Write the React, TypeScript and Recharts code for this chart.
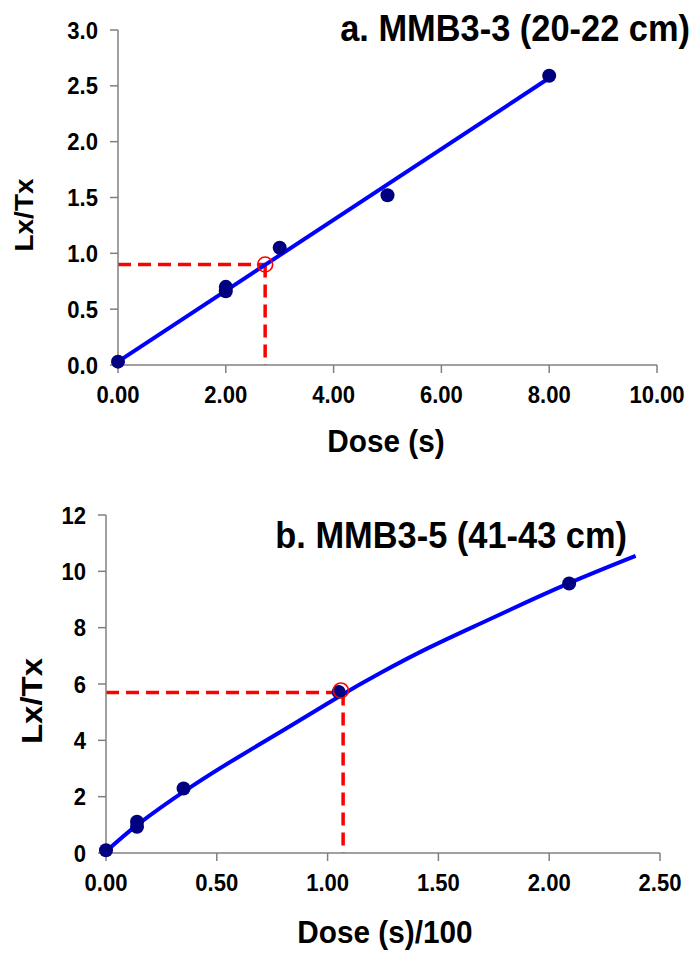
import React from "react";
import {
  ComposedChart,
  XAxis,
  YAxis,
  Line,
  Scatter,
  ReferenceLine,
} from "recharts";

// ---- Panel a: MMB3-3 (20-22 cm) ----
const doseA = [0, 2, 2, 3, 5, 8];
const lxA = [0.03, 0.66, 0.7, 1.05, 1.52, 2.59];
const fitDoseA = [0, 8];
const fitLxA = [0.03, 2.57];
const equivDoseA = 2.73;
const naturalLxA = 0.9;
const xTicksA = [0, 2, 4, 6, 8, 10];
const yTicksA = [0, 0.5, 1, 1.5, 2, 2.5, 3];

// ---- Panel b: MMB3-5 (41-43 cm) ----
const doseB = [0, 0.14, 0.14, 0.35, 1.05, 2.09];
const lxB = [0.1, 0.93, 1.11, 2.29, 5.72, 9.57];
const fitDoseB = [0, 0.15, 0.38, 0.6, 0.83, 1.05, 1.24, 1.46, 1.69, 1.91, 2.14, 2.39];
const fitLxB = [0.05, 1.05, 2.33, 3.42, 4.5, 5.55, 6.4, 7.3, 8.15, 8.95, 9.75, 10.55];
const equivDoseB = 1.07;
const naturalLxB = 5.7;
const naturalPointB = { x: 1.06, y: 5.77 };
const xTicksB = [0, 0.5, 1, 1.5, 2, 2.5];
const yTicksB = [0, 2, 4, 6, 8, 10, 12];

const FONT = '"Liberation Sans", Arial, Helvetica, sans-serif';
const AXIS_GRAY = "#808080";
const FIT_BLUE = "#0000ff";
const POINT_NAVY = "#000080";
const RED = "#ff0000";
// glyphs are drawn slightly narrower than the regular face
const NARROW = 0.92;

const zip = (xs: number[], ys: number[]) => xs.map((x, i) => ({ x, y: ys[i] }));

const Dot = (p: any) => <circle cx={p.cx} cy={p.cy} r={7} fill={POINT_NAVY} />;
const OpenCircle = (p: any) => (
  <circle cx={p.cx} cy={p.cy} r={7.5} fill="none" stroke={RED} strokeWidth={1.6} />
);

const makeXTick = (digits: number) => (p: any) => (
  <text
    transform={`translate(${p.x},${p.y}) scale(${NARROW},1)`}
    textAnchor="middle"
    dy="0.71em"
    fontFamily={FONT}
    fontWeight={700}
    fontSize={24}
    fill="#000"
  >
    {Number(p.payload.value).toFixed(digits)}
  </text>
);

const makeYTick = (digits: number) => (p: any) => (
  <text
    transform={`translate(${p.x},${p.y}) scale(${NARROW},1)`}
    textAnchor="end"
    dy="0.355em"
    fontFamily={FONT}
    fontWeight={700}
    fontSize={24}
    fill="#000"
  >
    {Number(p.payload.value).toFixed(digits)}
  </text>
);

type PanelProps = {
  top: number;
  margin: { top: number; right: number; bottom: number; left: number };
  points: { x: number; y: number }[];
  fit: { x: number; y: number }[];
  fitType: "linear" | "natural";
  natural: { x: number; y: number };
  equivDose: number;
  naturalLx: number;
  xTicks: number[];
  yTicks: number[];
  xDigits: number;
  yDigits: number;
  title: string;
  titleX: number;
  titleY: number;
  xLabel: string;
  xLabelX: number;
  xLabelY: number;
  yLabelX: number;
  yLabelY: number;
  yLabelSize: number;
};

function Panel(props: PanelProps) {
  const xMax = props.xTicks[props.xTicks.length - 1];
  const yMax = props.yTicks[props.yTicks.length - 1];
  return (
    <div style={{ position: "absolute", left: 0, top: props.top, width: 696, height: 477 }}>
      <ComposedChart width={696} height={477} margin={props.margin}>
        <XAxis
          type="number"
          dataKey="x"
          domain={[0, xMax]}
          ticks={props.xTicks}
          interval={0}
          height={60}
          tickSize={8}
          tickMargin={13}
          stroke={AXIS_GRAY}
          strokeWidth={1.5}
          tick={makeXTick(props.xDigits)}
        />
        <YAxis
          type="number"
          dataKey="y"
          domain={[0, yMax]}
          ticks={props.yTicks}
          interval={0}
          width={60}
          tickSize={8}
          tickMargin={12}
          stroke={AXIS_GRAY}
          strokeWidth={1.5}
          tick={makeYTick(props.yDigits)}
        />
        <ReferenceLine
          segment={[
            { x: 0, y: props.naturalLx },
            { x: props.equivDose, y: props.naturalLx },
          ]}
          stroke={RED}
          strokeWidth={3.5}
          strokeDasharray="13 7"
          ifOverflow="visible"
        />
        <ReferenceLine
          segment={[
            { x: props.equivDose, y: props.naturalLx },
            { x: props.equivDose, y: 0 },
          ]}
          stroke={RED}
          strokeWidth={3.5}
          strokeDasharray="13 7"
          ifOverflow="visible"
        />
        <Line
          data={props.fit}
          dataKey="y"
          type={props.fitType}
          stroke={FIT_BLUE}
          strokeWidth={4}
          dot={false}
          activeDot={false}
          isAnimationActive={false}
        />
        <Scatter data={props.points} dataKey="y" shape={Dot} isAnimationActive={false} />
        <Scatter data={[props.natural]} dataKey="y" shape={OpenCircle} isAnimationActive={false} />
      </ComposedChart>
      <svg
        width={696}
        height={477}
        style={{ position: "absolute", left: 0, top: 0, pointerEvents: "none" }}
      >
        <text
          transform={`translate(${props.titleX},${props.titleY}) scale(0.93,1)`}
          textAnchor="end"
          fontFamily={FONT}
          fontWeight={700}
          fontSize={37}
          fill="#000"
        >
          {props.title}
        </text>
        <text
          transform={`translate(${props.xLabelX},${props.xLabelY}) scale(0.93,1)`}
          textAnchor="middle"
          fontFamily={FONT}
          fontWeight={700}
          fontSize={32}
          fill="#000"
        >
          {props.xLabel}
        </text>
        <text
          transform={`translate(${props.yLabelX},${props.yLabelY}) scale(0.9,1) rotate(-90)`}
          textAnchor="middle"
          fontFamily={FONT}
          fontWeight={700}
          fontSize={props.yLabelSize}
          fill="#000"
        >
          Lx/Tx
        </text>
      </svg>
    </div>
  );
}

export default function App() {
  return (
    <div
      style={{
        position: "absolute",
        left: 0,
        top: 0,
        width: 696,
        height: 954,
        background: "#fff",
        overflow: "hidden",
      }}
    >
      <Panel
        top={0}
        margin={{ top: 30, right: 39, bottom: 52, left: 58 }}
        points={zip(doseA, lxA)}
        fit={zip(fitDoseA, fitLxA)}
        fitType="linear"
        natural={{ x: equivDoseA, y: naturalLxA }}
        equivDose={equivDoseA}
        naturalLx={naturalLxA}
        xTicks={xTicksA}
        yTicks={yTicksA}
        xDigits={2}
        yDigits={1}
        title="a. MMB3-3 (20-22 cm)"
        titleX={690}
        titleY={41}
        xLabel="Dose (s)"
        xLabelX={386}
        xLabelY={452}
        yLabelX={33}
        yLabelY={215}
        yLabelSize={28}
      />
      <Panel
        top={477}
        margin={{ top: 38, right: 36, bottom: 41, left: 46 }}
        points={zip(doseB, lxB)}
        fit={zip(fitDoseB, fitLxB)}
        fitType="natural"
        natural={naturalPointB}
        equivDose={equivDoseB}
        naturalLx={naturalLxB}
        xTicks={xTicksB}
        yTicks={yTicksB}
        xDigits={2}
        yDigits={0}
        title="b. MMB3-5 (41-43 cm)"
        titleX={627}
        titleY={71}
        xLabel="Dose (s)/100"
        xLabelX={385}
        xLabelY={466}
        yLabelX={42}
        yLabelY={224}
        yLabelSize={33}
      />
    </div>
  );
}
